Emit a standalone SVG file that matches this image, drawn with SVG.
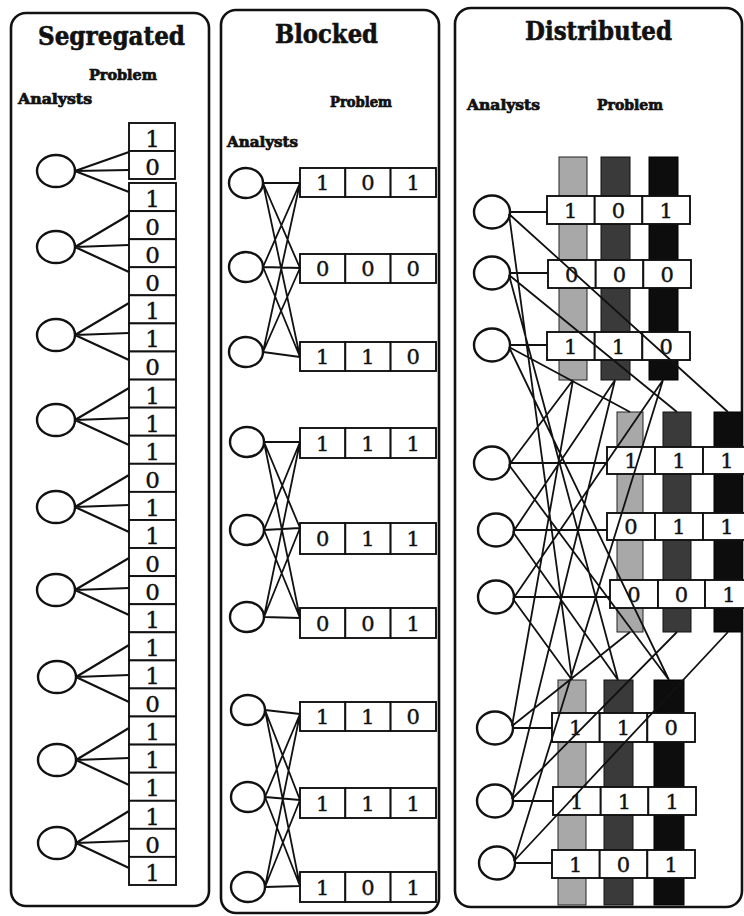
<svg xmlns="http://www.w3.org/2000/svg" width="744" height="916" viewBox="0 0 744 916">
<style>
.panel{fill:#fff;stroke:#111;stroke-width:2.6}
.cell{fill:#fff;stroke:#111;stroke-width:1.9}
.an{fill:#fff;stroke:#111;stroke-width:2.4}
.ln{fill:none;stroke:#111;stroke-width:1.8}
.ln2{fill:none;stroke:#111;stroke-width:2.2}
.dg{font-family:"DejaVu Serif","Liberation Serif",serif;font-size:23px;text-anchor:middle;fill:#111;stroke:#111;stroke-width:0.4}
.dg2{font-family:"DejaVu Serif","Liberation Serif",serif;font-size:21px;text-anchor:middle;fill:#111;stroke:#111;stroke-width:0.4}
.ttl{font-family:"DejaVu Serif","Liberation Serif",serif;font-weight:bold;font-size:26px;fill:#111;stroke:#111;stroke-width:0.6}
.lbl{font-family:"DejaVu Serif","Liberation Serif",serif;font-weight:bold;font-size:14px;fill:#111;stroke:#111;stroke-width:0.7}
.bl{fill:#a8a8a8;stroke:#222;stroke-width:1}
.bd{fill:#3a3a3a;stroke:#111;stroke-width:1}
.bk{fill:#0d0d0d;stroke:#000;stroke-width:1}
</style>
<rect width="744" height="916" fill="#fff"/>

<!-- Panels -->
<g id="panel-segregated">
<rect class="panel" x="11" y="13" width="198" height="893" rx="15"/>
<text class="ttl" x="38" y="45" textLength="147" lengthAdjust="spacingAndGlyphs">Segregated</text>
<text class="lbl" x="89" y="80" textLength="68" lengthAdjust="spacingAndGlyphs">Problem</text>
<text class="lbl" x="18" y="104" textLength="74" lengthAdjust="spacingAndGlyphs">Analysts</text>
</g>
<g id="panel-blocked">
<rect class="panel" x="221" y="10" width="218" height="903" rx="15"/>
<text class="ttl" x="275" y="43" textLength="103" lengthAdjust="spacingAndGlyphs">Blocked</text>
<text class="lbl" x="330" y="107" textLength="62" lengthAdjust="spacingAndGlyphs">Problem</text>
<text class="lbl" x="227" y="147" textLength="71" lengthAdjust="spacingAndGlyphs">Analysts</text>
</g>
<g id="panel-distributed">
<rect class="panel" x="455" y="8" width="287" height="899" rx="16"/>
<text class="ttl" x="525" y="40" textLength="147" lengthAdjust="spacingAndGlyphs">Distributed</text>
<text class="lbl" x="467" y="110" textLength="73" lengthAdjust="spacingAndGlyphs">Analysts</text>
<text class="lbl" x="597" y="110" textLength="66" lengthAdjust="spacingAndGlyphs">Problem</text>
</g>

<!-- Segregated: problem column -->
<g id="seg-p1"><rect class="cell" x="129" y="123" width="46" height="28"/><rect class="cell" x="129" y="151" width="46" height="28"/><rect class="cell" x="129" y="183" width="47" height="28.1"/>
<text class="dg" x="152.5" y="147">1</text><text class="dg" x="152.5" y="175">0</text><text class="dg" x="152.5" y="207">1</text></g>
<g id="seg-p2"><rect class="cell" x="129" y="211.1" width="47" height="28.1"/><rect class="cell" x="129" y="239.2" width="47" height="28.1"/><rect class="cell" x="129" y="267.2" width="47" height="28.1"/>
<text class="dg" x="152.5" y="235">0</text><text class="dg" x="152.5" y="263">0</text><text class="dg" x="152.5" y="291">0</text></g>
<g id="seg-p3"><rect class="cell" x="129" y="295.3" width="47" height="28.1"/><rect class="cell" x="129" y="323.4" width="47" height="28.1"/><rect class="cell" x="129" y="351.5" width="47" height="28.1"/>
<text class="dg" x="152.5" y="319">1</text><text class="dg" x="152.5" y="347">1</text><text class="dg" x="152.5" y="375">0</text></g>
<g id="seg-p4"><rect class="cell" x="129" y="379.6" width="47" height="28.1"/><rect class="cell" x="129" y="407.6" width="47" height="28.1"/><rect class="cell" x="129" y="435.7" width="47" height="28.1"/>
<text class="dg" x="152.5" y="404">1</text><text class="dg" x="152.5" y="432">1</text><text class="dg" x="152.5" y="460">1</text></g>
<g id="seg-p5"><rect class="cell" x="129" y="463.8" width="47" height="28.1"/><rect class="cell" x="129" y="491.9" width="47" height="28.1"/><rect class="cell" x="129" y="520" width="47" height="28.1"/>
<text class="dg" x="152.5" y="488">0</text><text class="dg" x="152.5" y="516">1</text><text class="dg" x="152.5" y="544">1</text></g>
<g id="seg-p6"><rect class="cell" x="129" y="548" width="47" height="28.1"/><rect class="cell" x="129" y="576.1" width="47" height="28.1"/><rect class="cell" x="129" y="604.2" width="47" height="28.1"/>
<text class="dg" x="152.5" y="572">0</text><text class="dg" x="152.5" y="600">0</text><text class="dg" x="152.5" y="628">1</text></g>
<g id="seg-p7"><rect class="cell" x="129" y="632.3" width="47" height="28.1"/><rect class="cell" x="129" y="660.4" width="47" height="28.1"/><rect class="cell" x="129" y="688.4" width="47" height="28.1"/>
<text class="dg" x="152.5" y="656">1</text><text class="dg" x="152.5" y="684">1</text><text class="dg" x="152.5" y="712">0</text></g>
<g id="seg-p8"><rect class="cell" x="129" y="716.5" width="47" height="28.1"/><rect class="cell" x="129" y="744.6" width="47" height="28.1"/><rect class="cell" x="129" y="772.7" width="47" height="28.1"/>
<text class="dg" x="152.5" y="740">1</text><text class="dg" x="152.5" y="768">1</text><text class="dg" x="152.5" y="796">1</text></g>
<g id="seg-p9"><rect class="cell" x="129" y="800.8" width="47" height="28.1"/><rect class="cell" x="129" y="828.8" width="47" height="28.1"/><rect class="cell" x="129" y="856.9" width="47" height="28.1"/>
<text class="dg" x="152.5" y="825">1</text><text class="dg" x="152.5" y="853">0</text><text class="dg" x="152.5" y="881">1</text></g>

<!-- Segregated analysts -->
<g id="seg-a1"><ellipse class="an" cx="56" cy="171" rx="19" ry="16"/></g>
<g id="seg-a2"><ellipse class="an" cx="56" cy="247" rx="19" ry="16"/></g>
<g id="seg-a3"><ellipse class="an" cx="56" cy="335" rx="19" ry="16"/></g>
<g id="seg-a4"><ellipse class="an" cx="56" cy="420" rx="19" ry="16"/></g>
<g id="seg-a5"><ellipse class="an" cx="56" cy="507" rx="19" ry="16"/></g>
<g id="seg-a6"><ellipse class="an" cx="56" cy="590" rx="19" ry="16"/></g>
<g id="seg-a7"><ellipse class="an" cx="57" cy="677" rx="19" ry="16"/></g>
<g id="seg-a8"><ellipse class="an" cx="57" cy="760" rx="19" ry="16"/></g>
<g id="seg-a9"><ellipse class="an" cx="57" cy="843" rx="19" ry="16"/></g>

<!-- Blocked rows -->
<g id="blk-p1"><rect class="cell" x="300" y="168" width="45.3" height="29"/><rect class="cell" x="345.3" y="168" width="45.3" height="29"/><rect class="cell" x="390.6" y="168" width="45.4" height="29"/>
<text class="dg2" x="322.6" y="190">1</text><text class="dg2" x="367.9" y="190">0</text><text class="dg2" x="413.3" y="190">1</text></g>
<g id="blk-p2"><rect class="cell" x="300" y="254" width="45.3" height="29"/><rect class="cell" x="345.3" y="254" width="45.3" height="29"/><rect class="cell" x="390.6" y="254" width="45.4" height="29"/>
<text class="dg2" x="322.6" y="276">0</text><text class="dg2" x="367.9" y="276">0</text><text class="dg2" x="413.3" y="276">0</text></g>
<g id="blk-p3"><rect class="cell" x="300" y="342" width="45.3" height="29"/><rect class="cell" x="345.3" y="342" width="45.3" height="29"/><rect class="cell" x="390.6" y="342" width="45.4" height="29"/>
<text class="dg2" x="322.6" y="364">1</text><text class="dg2" x="367.9" y="364">1</text><text class="dg2" x="413.3" y="364">0</text></g>
<g id="blk-p4"><rect class="cell" x="300" y="428" width="45.3" height="30"/><rect class="cell" x="345.3" y="428" width="45.3" height="30"/><rect class="cell" x="390.6" y="428" width="45.4" height="30"/>
<text class="dg2" x="322.6" y="451">1</text><text class="dg2" x="367.9" y="451">1</text><text class="dg2" x="413.3" y="451">1</text></g>
<g id="blk-p5"><rect class="cell" x="300" y="523" width="45.3" height="31"/><rect class="cell" x="345.3" y="523" width="45.3" height="31"/><rect class="cell" x="390.6" y="523" width="45.4" height="31"/>
<text class="dg2" x="322.6" y="546">0</text><text class="dg2" x="367.9" y="546">1</text><text class="dg2" x="413.3" y="546">1</text></g>
<g id="blk-p6"><rect class="cell" x="300" y="608" width="45.3" height="30"/><rect class="cell" x="345.3" y="608" width="45.3" height="30"/><rect class="cell" x="390.6" y="608" width="45.4" height="30"/>
<text class="dg2" x="322.6" y="631">0</text><text class="dg2" x="367.9" y="631">0</text><text class="dg2" x="413.3" y="631">1</text></g>
<g id="blk-p7"><rect class="cell" x="300" y="702" width="45.3" height="29"/><rect class="cell" x="345.3" y="702" width="45.3" height="29"/><rect class="cell" x="390.6" y="702" width="45.4" height="29"/>
<text class="dg2" x="322.6" y="724">1</text><text class="dg2" x="367.9" y="724">1</text><text class="dg2" x="413.3" y="724">0</text></g>
<g id="blk-p8"><rect class="cell" x="300" y="788" width="45.3" height="30"/><rect class="cell" x="345.3" y="788" width="45.3" height="30"/><rect class="cell" x="390.6" y="788" width="45.4" height="30"/>
<text class="dg2" x="322.6" y="811">1</text><text class="dg2" x="367.9" y="811">1</text><text class="dg2" x="413.3" y="811">1</text></g>
<g id="blk-p9"><rect class="cell" x="300" y="872" width="45.3" height="30"/><rect class="cell" x="345.3" y="872" width="45.3" height="30"/><rect class="cell" x="390.6" y="872" width="45.4" height="30"/>
<text class="dg2" x="322.6" y="895">1</text><text class="dg2" x="367.9" y="895">0</text><text class="dg2" x="413.3" y="895">1</text></g>

<!-- Blocked analysts -->
<g id="blk-a1"><ellipse class="an" cx="246" cy="183" rx="17" ry="15"/></g>
<g id="blk-a2"><ellipse class="an" cx="246" cy="267" rx="17" ry="15"/></g>
<g id="blk-a3"><ellipse class="an" cx="246" cy="352" rx="17" ry="15"/></g>
<g id="blk-a4"><ellipse class="an" cx="247" cy="442" rx="17" ry="15"/></g>
<g id="blk-a5"><ellipse class="an" cx="247" cy="530" rx="17" ry="15"/></g>
<g id="blk-a6"><ellipse class="an" cx="247" cy="617" rx="17" ry="15"/></g>
<g id="blk-a7"><ellipse class="an" cx="248" cy="710" rx="17" ry="15"/></g>
<g id="blk-a8"><ellipse class="an" cx="248" cy="797" rx="17" ry="15"/></g>
<g id="blk-a9"><ellipse class="an" cx="248" cy="887" rx="17" ry="15"/></g>

<!-- Distributed bars -->
<g id="dst-bars-1"><rect class="bl" x="559" y="157" width="28" height="223"/><rect class="bd" x="601" y="157" width="29" height="223"/><rect class="bk" x="649" y="157" width="29" height="223"/></g>
<g id="dst-bars-2"><rect class="bl" x="617" y="412" width="26" height="220"/><rect class="bd" x="663" y="412" width="28" height="220"/><rect class="bk" x="714" y="412" width="28" height="220"/></g>
<g id="dst-bars-3"><rect class="bl" x="558" y="680" width="28" height="225"/><rect class="bd" x="604" y="680" width="29" height="225"/><rect class="bk" x="654" y="680" width="30" height="225"/></g>

<!-- Distributed rows -->
<g id="dst-p1"><rect class="cell" x="547" y="196" width="47.7" height="28"/><rect class="cell" x="594.7" y="196" width="47.6" height="28"/><rect class="cell" x="642.3" y="196" width="47.7" height="28"/>
<text class="dg2" x="570.8" y="217.5">1</text><text class="dg2" x="618.5" y="217.5">0</text><text class="dg2" x="666.2" y="217.5">1</text></g>
<g id="dst-p2"><rect class="cell" x="548" y="260" width="47.7" height="28"/><rect class="cell" x="595.7" y="260" width="47.6" height="28"/><rect class="cell" x="643.3" y="260" width="47.7" height="28"/>
<text class="dg2" x="571.8" y="281.5">0</text><text class="dg2" x="619.5" y="281.5">0</text><text class="dg2" x="667.2" y="281.5">0</text></g>
<g id="dst-p3"><rect class="cell" x="547" y="332" width="47.7" height="28"/><rect class="cell" x="594.7" y="332" width="47.6" height="28"/><rect class="cell" x="642.3" y="332" width="47.7" height="28"/>
<text class="dg2" x="570.8" y="353.5">1</text><text class="dg2" x="618.5" y="353.5">1</text><text class="dg2" x="666.2" y="353.5">0</text></g>
<g id="dst-p4"><rect class="cell" x="607" y="447" width="48" height="27"/><rect class="cell" x="655" y="447" width="48" height="27"/><rect class="cell" x="703" y="447" width="48" height="27"/>
<text class="dg2" x="631" y="468">1</text><text class="dg2" x="679" y="468">1</text><text class="dg2" x="727" y="468">1</text></g>
<g id="dst-p5"><rect class="cell" x="607" y="513" width="48" height="27"/><rect class="cell" x="655" y="513" width="48" height="27"/><rect class="cell" x="703" y="513" width="48" height="27"/>
<text class="dg2" x="631" y="534">0</text><text class="dg2" x="679" y="534">1</text><text class="dg2" x="727" y="534">1</text></g>
<g id="dst-p6"><rect class="cell" x="610" y="580" width="48" height="28"/><rect class="cell" x="658" y="580" width="47" height="28"/><rect class="cell" x="705" y="580" width="48" height="28"/>
<text class="dg2" x="634" y="601.5">0</text><text class="dg2" x="681.5" y="601.5">0</text><text class="dg2" x="729" y="601.5">1</text></g>
<g id="dst-p7"><rect class="cell" x="552" y="713" width="47.7" height="29"/><rect class="cell" x="599.7" y="713" width="47.6" height="29"/><rect class="cell" x="647.3" y="713" width="47.7" height="29"/>
<text class="dg2" x="575.8" y="735">1</text><text class="dg2" x="623.5" y="735">1</text><text class="dg2" x="671.2" y="735">0</text></g>
<g id="dst-p8"><rect class="cell" x="553" y="787" width="47.7" height="28"/><rect class="cell" x="600.7" y="787" width="47.6" height="28"/><rect class="cell" x="648.3" y="787" width="47.7" height="28"/>
<text class="dg2" x="576.8" y="808.5">1</text><text class="dg2" x="624.5" y="808.5">1</text><text class="dg2" x="672.2" y="808.5">1</text></g>
<g id="dst-p9"><rect class="cell" x="552" y="850" width="47.7" height="28"/><rect class="cell" x="599.7" y="850" width="47.6" height="28"/><rect class="cell" x="647.3" y="850" width="47.7" height="28"/>
<text class="dg2" x="575.8" y="871.5">1</text><text class="dg2" x="623.5" y="871.5">0</text><text class="dg2" x="671.2" y="871.5">1</text></g>

<!-- Distributed analysts -->
<g id="dst-a1"><ellipse class="an" cx="492" cy="212" rx="18" ry="16.5"/></g>
<g id="dst-a2"><ellipse class="an" cx="492" cy="273" rx="18" ry="16.5"/></g>
<g id="dst-a3"><ellipse class="an" cx="492" cy="345" rx="18" ry="16.5"/></g>
<g id="dst-a4"><ellipse class="an" cx="492" cy="463" rx="18" ry="16.5"/></g>
<g id="dst-a5"><ellipse class="an" cx="496" cy="530" rx="18" ry="16.5"/></g>
<g id="dst-a6"><ellipse class="an" cx="496" cy="597" rx="18" ry="16.5"/></g>
<g id="dst-a7"><ellipse class="an" cx="495" cy="728" rx="18" ry="16.5"/></g>
<g id="dst-a8"><ellipse class="an" cx="495" cy="801" rx="18" ry="16.5"/></g>
<g id="dst-a9"><ellipse class="an" cx="497" cy="863" rx="18" ry="16.5"/></g>

<!-- Connectors -->
<g id="connectors">
<path class="ln2" d="M75 171L129 152M75 171L129 170M75 171L129 192
M75 247L129 215M75 247L129 245M75 247L129 272
M75 335L129 303M75 335L129 333M75 335L129 360
M75 420L129 388M75 420L129 418M75 420L129 445
M75 507L129 475M75 507L129 505M75 507L129 532
M75 590L129 558M75 590L129 588M75 590L129 615
M76 677L129 645M76 677L129 675M76 677L129 702
M76 760L129 728M76 760L129 758M76 760L129 785
M76 843L129 811M76 843L129 841M76 843L129 868"/>
<path class="ln" d="M263 183L300 183M263 183L300 268M263 183L300 357
M263 267L300 183M263 267L300 268M263 267L300 357
M263 352L300 183M263 352L300 268M263 352L300 357
M264 442L300 442M264 442L300 528M264 442L300 618
M264 530L300 442M264 530L300 528M264 530L300 618
M264 617L300 442M264 617L300 528M264 617L300 618
M265 710L300 714M265 710L300 800M265 710L300 886
M265 797L300 714M265 797L300 800M265 797L300 886
M265 887L300 714M265 887L300 800M265 887L300 886"/>
<path class="ln" d="M510 212L547 212M510 273L548 273M510 345L547 345
M510 463L607 463M514 530L607 530M514 597L610 597
M513 728L552 728M513 801L553 801M515 863L552 863"/>
<path class="ln" d="M509 214L728 412M509 214L572 680
M509 275L677 412M509 275L618 680
M509 347L630 412M509 347L669 680
M509 465L573 380M509 465L669 680
M513 532L615 380M513 532L618 680
M513 599L663 380M513 599L572 680
M512 726L630 632M512 726L573 380
M512 799L677 632M512 799L615 380
M514 861L728 632M514 861L663 380"/>
</g>
</svg>
